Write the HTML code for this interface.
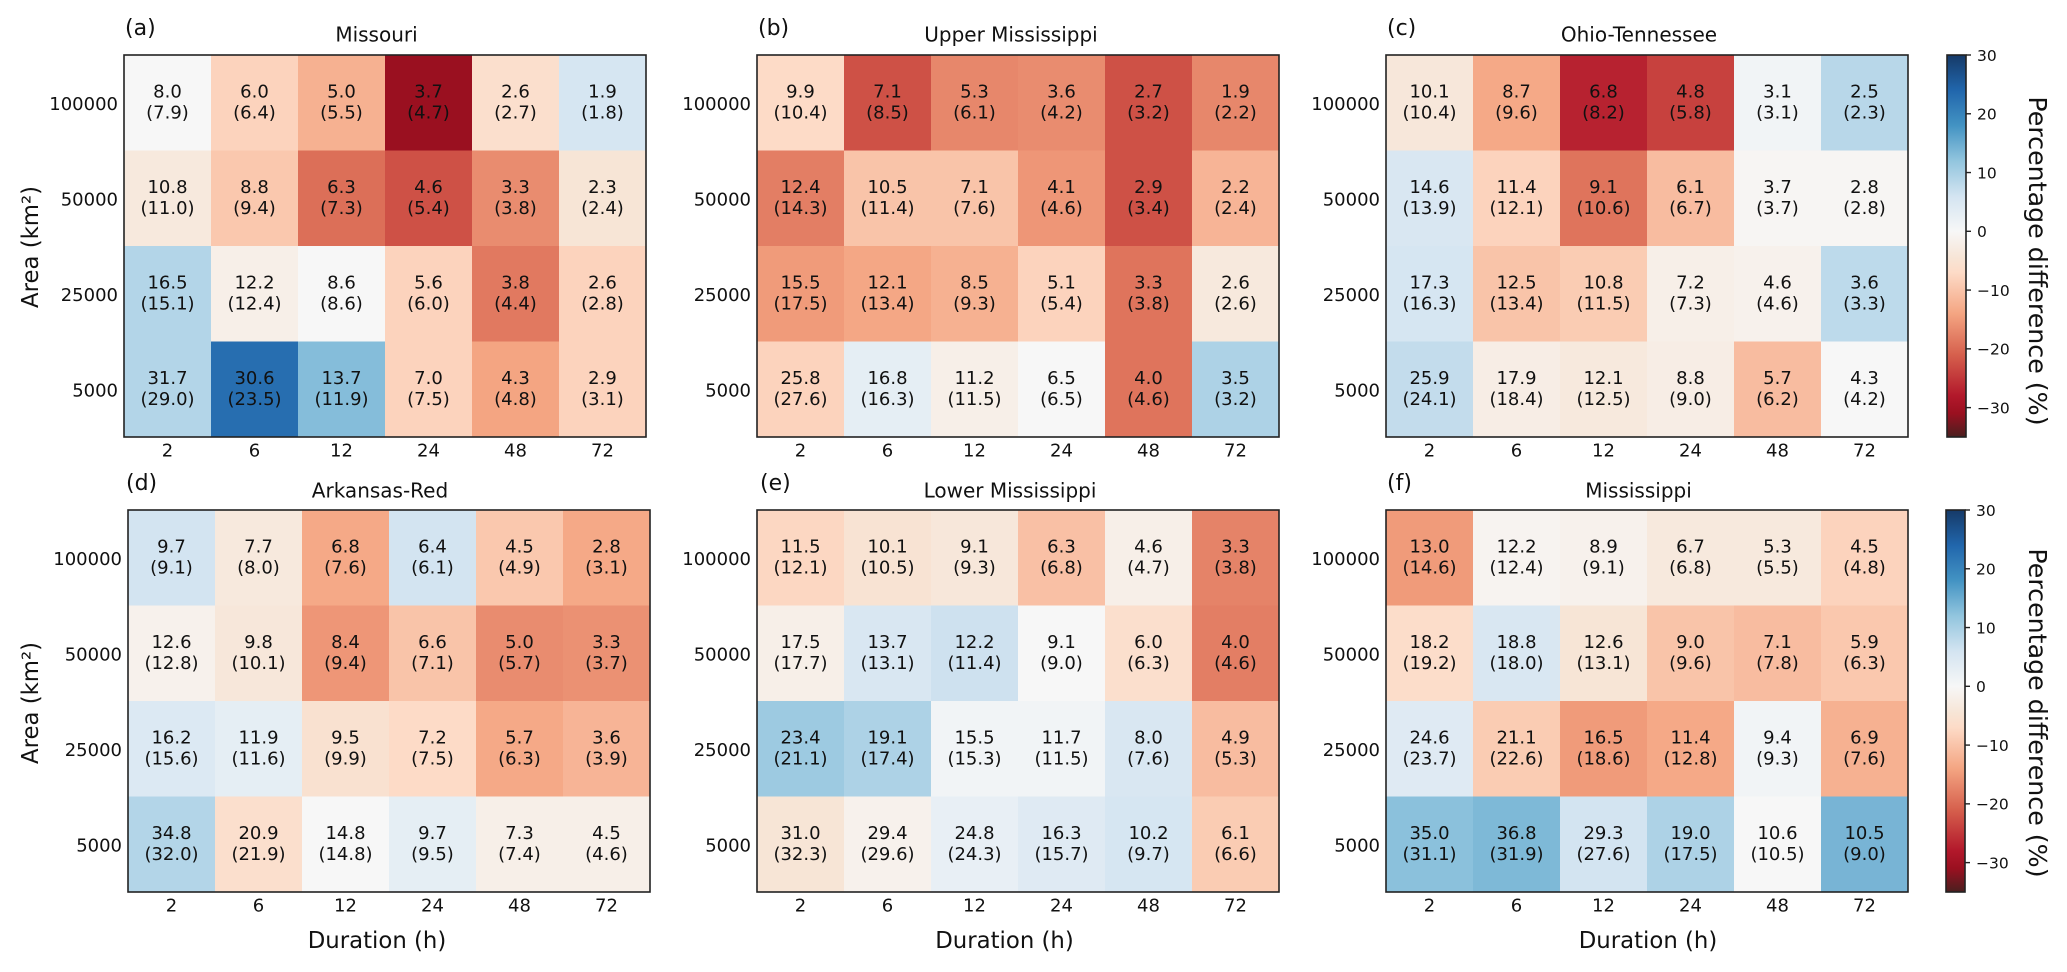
<!DOCTYPE html>
<html lang="en">
<head>
<meta charset="utf-8">
<title>Percentage difference heatmaps</title>
<style>
  html, body { margin: 0; padding: 0; background: #fff; width: 2067px; height: 972px; overflow: hidden; }
  svg { display: block; }
  text { font-family: "DejaVu Sans", "Liberation Sans", sans-serif; fill: #111; }
  .cell-text { font-size: 18px; text-anchor: middle; }
  .tick { font-size: 18px; }
  .title { font-size: 20px; text-anchor: middle; }
  .panel-label { font-size: 22px; }
  .axis-title { font-size: 22.8px; text-anchor: middle; }
  .cb-tick { font-size: 15.5px; }
  .cb-title { font-size: 25.3px; text-anchor: middle; }
  .frame { fill: none; stroke: #222; stroke-width: 1.6; }
</style>
</head>
<body>
<svg id="figure" width="2067" height="972" viewBox="0 0 2067 972" xmlns="http://www.w3.org/2000/svg">
  <defs>
    <linearGradient id="cb-gradient" x1="0" y1="1" x2="0" y2="0"></linearGradient>
  </defs>
  <rect x="0" y="0" width="2067" height="972" fill="#fff"></rect>

  <g id="panel-a">
    <text class="panel-label" x="125" y="35">(a)</text>
    <text class="title" x="376.5" y="41.5">Missouri</text>
    <text class="axis-title" transform="translate(38 247) rotate(-90)">Area (km²)</text>
  </g>
  <g id="panel-b">
    <text class="panel-label" x="758" y="35">(b)</text>
    <text class="title" x="1011" y="41.5">Upper Mississippi</text>
  </g>
  <g id="panel-c">
    <text class="panel-label" x="1387" y="35">(c)</text>
    <text class="title" x="1639" y="41.5">Ohio-Tennessee</text>
  </g>
  <g id="panel-d">
    <text class="panel-label" x="126" y="490">(d)</text>
    <text class="title" x="380" y="497.5">Arkansas-Red</text>
    <text class="axis-title" transform="translate(38 703) rotate(-90)">Area (km²)</text>
    <text class="axis-title" x="377" y="948">Duration (h)</text>
  </g>
  <g id="panel-e">
    <text class="panel-label" x="760" y="490">(e)</text>
    <text class="title" x="1010" y="497.5">Lower Mississippi</text>
    <text class="axis-title" x="1004.5" y="948">Duration (h)</text>
  </g>
  <g id="panel-f">
    <text class="panel-label" x="1387" y="490">(f)</text>
    <text class="title" x="1638.5" y="497.5">Mississippi</text>
    <text class="axis-title" x="1648" y="948">Duration (h)</text>
  </g>

  <g id="colorbar-top">
    <text class="cb-title" transform="translate(2029 261) rotate(90)">Percentage difference (%)</text>
  </g>
  <g id="colorbar-bottom">
    <text class="cb-title" transform="translate(2029 713) rotate(90)">Percentage difference (%)</text>
  </g>
</svg>

<script>
// Categories and tick labels
const durations = [2, 6, 12, 24, 48, 72];
const areas = [100000, 50000, 25000, 5000];
const colorbarTicks = [30, 20, 10, 0, -10, -20, -30];

// Colour scale (percentage difference -> colour)
const scaleValues = [-35, -31, -28, -21, -14, -7, -4.5, 0, 6, 12, 18, 24, 30];
const scaleColors = ['#4a1f1f', '#9a1020', '#b2182b', '#d6604d', '#f4a582', '#fddbc7', '#f7e5d6', '#f7f7f7', '#d3e4f1', '#92c5de', '#4393c3', '#2166ac', '#163a68'];

// (a) Missouri
const missouriMain = [[8.0, 6.0, 5.0, 3.7, 2.6, 1.9], [10.8, 8.8, 6.3, 4.6, 3.3, 2.3], [16.5, 12.2, 8.6, 5.6, 3.8, 2.6], [31.7, 30.6, 13.7, 7.0, 4.3, 2.9]];
const missouriParen = [[7.9, 6.4, 5.5, 4.7, 2.7, 1.8], [11.0, 9.4, 7.3, 5.4, 3.8, 2.4], [15.1, 12.4, 8.6, 6.0, 4.4, 2.8], [29.0, 23.5, 11.9, 7.5, 4.8, 3.1]];
const missouriDiff = [[0, -8, -12.5, -31, -6, 5.5], [-3.5, -9.5, -19.5, -22.5, -16.5, -4.5], [9, -2, 0, -8, -18.5, -8], [9, 23, 13, -8, -14, -8]];

// (b) Upper Mississippi
const upperMain = [[9.9, 7.1, 5.3, 3.6, 2.7, 1.9], [12.4, 10.5, 7.1, 4.1, 2.9, 2.2], [15.5, 12.1, 8.5, 5.1, 3.3, 2.6], [25.8, 16.8, 11.2, 6.5, 4.0, 3.5]];
const upperParen = [[10.4, 8.5, 6.1, 4.2, 3.2, 2.2], [14.3, 11.4, 7.6, 4.6, 3.4, 2.4], [17.5, 13.4, 9.3, 5.4, 3.8, 2.6], [27.6, 16.3, 11.5, 6.5, 4.6, 3.2]];
const upperDiff = [[-7, -22.5, -17, -16.5, -22.5, -17], [-18, -10, -10, -15.5, -22.5, -12], [-15, -13.7, -12.5, -8, -19, -3.5], [-8, 3, -2, 0, -19, 9.5]];

// (c) Ohio-Tennessee
const ohioMain = [[10.1, 8.7, 6.8, 4.8, 3.1, 2.5], [14.6, 11.4, 9.1, 6.1, 3.7, 2.8], [17.3, 12.5, 10.8, 7.2, 4.6, 3.6], [25.9, 17.9, 12.1, 8.8, 5.7, 4.3]];
const ohioParen = [[10.4, 9.6, 8.2, 5.8, 3.1, 2.3], [13.9, 12.1, 10.6, 6.7, 3.7, 2.8], [16.3, 13.4, 11.5, 7.3, 4.6, 3.3], [24.1, 18.4, 12.5, 9.0, 6.2, 4.2]];
const ohioDiff = [[-4, -13.5, -27, -24, 1, 8.5], [5, -8, -19, -11, -0.5, -0.5], [5.5, -10, -9, -2, -1.5, 8], [7.5, -2.5, -3.5, -2.5, -11, 0]];

// (d) Arkansas-Red
const arkansasMain = [[9.7, 7.7, 6.8, 6.4, 4.5, 2.8], [12.6, 9.8, 8.4, 6.6, 5.0, 3.3], [16.2, 11.9, 9.5, 7.2, 5.7, 3.6], [34.8, 20.9, 14.8, 9.7, 7.3, 4.5]];
const arkansasParen = [[9.1, 8.0, 7.6, 6.1, 4.9, 3.1], [12.8, 10.1, 9.4, 7.1, 5.7, 3.7], [15.6, 11.6, 9.9, 7.5, 6.3, 3.9], [32.0, 21.9, 14.8, 9.5, 7.4, 4.6]];
const arkansasDiff = [[6, -3.5, -13.5, 6, -9.5, -13.5], [-1.5, -4, -15.5, -10, -16.5, -16], [4.5, 3, -5.5, -7, -13.5, -12], [9, -6, 0, 3, -2, -2]];

// (e) Lower Mississippi
const lowerMain = [[11.5, 10.1, 9.1, 6.3, 4.6, 3.3], [17.5, 13.7, 12.2, 9.1, 6.0, 4.0], [23.4, 19.1, 15.5, 11.7, 8.0, 4.9], [31.0, 29.4, 24.8, 16.3, 10.2, 6.1]];
const lowerParen = [[12.1, 10.5, 9.3, 6.8, 4.7, 3.8], [17.7, 13.1, 11.4, 9.0, 6.3, 4.6], [21.1, 17.4, 15.3, 11.5, 7.6, 5.3], [32.3, 29.6, 24.3, 15.7, 9.7, 6.6]];
const lowerDiff = [[-7.5, -5, -4, -10.5, -2, -17.5], [-2, 5, 6.5, 0, -6, -18], [11, 9.5, 1, 1, 5, -11], [-4.5, -1.5, 2.5, 4, 5.5, -9]];

// (f) Mississippi
const mississippiMain = [[13.0, 12.2, 8.9, 6.7, 5.3, 4.5], [18.2, 18.8, 12.6, 9.0, 7.1, 5.9], [24.6, 21.1, 16.5, 11.4, 9.4, 6.9], [35.0, 36.8, 29.3, 19.0, 10.6, 10.5]];
const mississippiParen = [[14.6, 12.4, 9.1, 6.8, 5.5, 4.8], [19.2, 18.0, 13.1, 9.6, 7.8, 6.3], [23.7, 22.6, 18.6, 12.8, 9.3, 7.6], [31.1, 31.9, 27.6, 17.5, 10.5, 9.0]];
const mississippiDiff = [[-15, -1, -1.5, -3.5, -3.5, -8], [-6.5, 5, -4.5, -10, -11, -9.5], [4, -9, -15, -13.5, 1, -12.5], [12.5, 13.5, 6, 9.5, 0, 14]];

const SVG_NS = 'http://www.w3.org/2000/svg';
const PANEL_W = 522;
const PANEL_H = 382;

function hexToRgb(hex) {
  return [1, 3, 5].map(function (i) { return parseInt(hex.slice(i, i + 2), 16); });
}

function colorFor(value) {
  const v = Math.max(scaleValues[0], Math.min(scaleValues[scaleValues.length - 1], value));
  let i = 0;
  while (i < scaleValues.length - 2 && v > scaleValues[i + 1]) { i++; }
  const t = (v - scaleValues[i]) / (scaleValues[i + 1] - scaleValues[i]);
  const a = hexToRgb(scaleColors[i]);
  const b = hexToRgb(scaleColors[i + 1]);
  const c = a.map(function (x, k) { return Math.round(x + (b[k] - x) * t); });
  return 'rgb(' + c.join(',') + ')';
}

function makeEl(tag, attrs, parent) {
  const el = document.createElementNS(SVG_NS, tag);
  Object.keys(attrs).forEach(function (k) { el.setAttribute(k, attrs[k]); });
  parent.appendChild(el);
  return el;
}

function drawHeatmap(id, left, top, main, paren, diff) {
  const panel = document.getElementById(id);
  const colW = PANEL_W / durations.length;
  const rowH = PANEL_H / areas.length;
  const xCenter = function (i) { return left + colW * (i + 0.5); };
  const yCenter = function (j) { return top + rowH * (j + 0.5); };

  areas.forEach(function (area, j) {
    durations.forEach(function (duration, i) {
      const rect = makeEl('rect', {
        x: xCenter(i) - colW / 2,
        y: yCenter(j) - rowH / 2,
        width: colW + 0.3,
        height: rowH + 0.3,
        fill: colorFor(diff[j][i])
      }, panel);
      
      
    });
  });

  areas.forEach(function (area, j) {
    durations.forEach(function (duration, i) {
      const top1 = makeEl('text', { class: 'cell-text', x: xCenter(i), y: yCenter(j) - 5.5 }, panel);
      
      
      top1.textContent = main[j][i].toFixed(1);
      const top2 = makeEl('text', { class: 'cell-text', x: xCenter(i), y: yCenter(j) + 15.5 }, panel);
      
      
      top2.textContent = '(' + paren[j][i].toFixed(1) + ')';
    });
  });

  const frame = makeEl('rect', { class: 'frame', x: left, y: top, width: PANEL_W, height: PANEL_H }, panel);
  
  

  durations.forEach(function (duration, i) {
    const label = makeEl('text', { class: 'tick', x: xCenter(i), y: top + PANEL_H + 19.5, 'text-anchor': 'middle' }, panel);
    
    
    label.textContent = String(duration);
  });

  areas.forEach(function (area, j) {
    const label = makeEl('text', { class: 'tick', x: left - 6, y: yCenter(j) + 7, 'text-anchor': 'end' }, panel);
    
    
    label.textContent = String(area);
  });
}

function drawGradient() {
  const gradient = document.getElementById('cb-gradient');
  const lo = scaleValues[0];
  const hi = scaleValues[scaleValues.length - 1];
  scaleValues.forEach(function (v, i) {
    makeEl('stop', { offset: (v - lo) / (hi - lo), 'stop-color': scaleColors[i] }, gradient);
  });
}

function drawColorbar(id, left, top) {
  const group = document.getElementById(id);
  const width = 19;
  const height = 382;
  const lo = scaleValues[0];
  const hi = scaleValues[scaleValues.length - 1];
  const yOf = function (v) { return top + (hi - v) * height / (hi - lo); };

  const bar = makeEl('rect', { x: left, y: top, width: width, height: height, fill: 'url(#cb-gradient)', stroke: '#222', 'stroke-width': 1.6 }, group);
  
  

  colorbarTicks.forEach(function (t) {
    const mark = makeEl('line', { x1: left + width, x2: left + width + 5, y1: yOf(t), y2: yOf(t), stroke: '#222', 'stroke-width': 1.4 }, group);
    
    
    const label = makeEl('text', { class: 'cb-tick', x: left + width + 11, y: yOf(t) + 5.8 }, group);
    
    
    label.textContent = t < 0 ? '\u2212' + Math.abs(t) : String(t);
  });
}

drawGradient();
drawHeatmap('panel-a', 124, 55, missouriMain, missouriParen, missouriDiff);
drawHeatmap('panel-b', 757, 55, upperMain, upperParen, upperDiff);
drawHeatmap('panel-c', 1386, 55, ohioMain, ohioParen, ohioDiff);
drawHeatmap('panel-d', 128, 510, arkansasMain, arkansasParen, arkansasDiff);
drawHeatmap('panel-e', 757, 510, lowerMain, lowerParen, lowerDiff);
drawHeatmap('panel-f', 1386, 510, mississippiMain, mississippiParen, mississippiDiff);
drawColorbar('colorbar-top', 1947, 55);
drawColorbar('colorbar-bottom', 1946, 510);
</script>
</body>
</html>
